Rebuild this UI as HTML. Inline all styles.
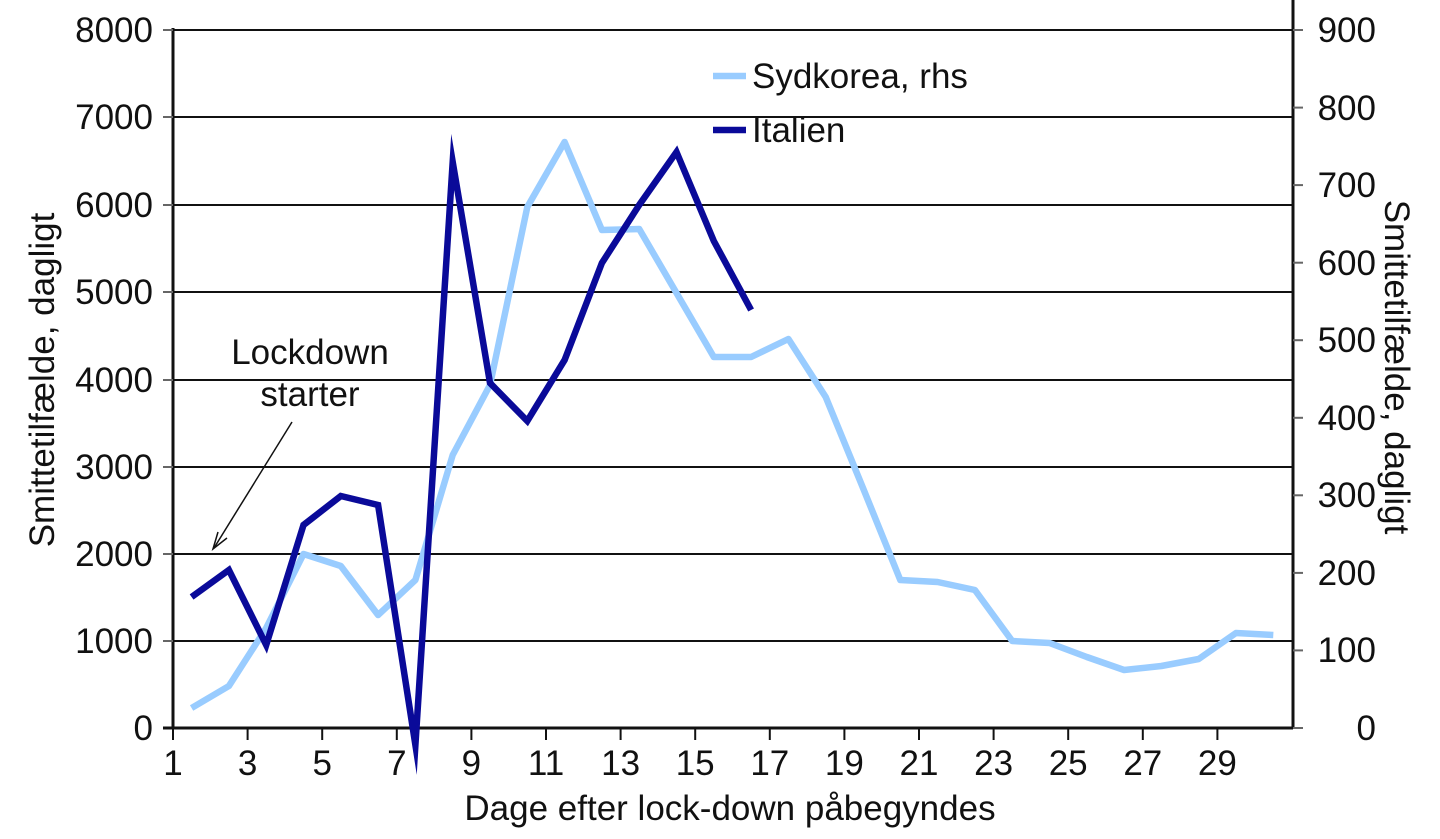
<!DOCTYPE html>
<html><head><meta charset="utf-8"><style>
html,body{margin:0;padding:0;background:#fff;}
svg text{font-family:"Liberation Sans",sans-serif;fill:#111;}
</style></head><body>
<svg width="1440" height="834" viewBox="0 0 1440 834" xmlns="http://www.w3.org/2000/svg">
<g stroke="#111" stroke-width="2">
<line x1="173" y1="30" x2="1293" y2="30"/>
<line x1="173" y1="117" x2="1293" y2="117"/>
<line x1="173" y1="205" x2="1293" y2="205"/>
<line x1="173" y1="292" x2="1293" y2="292"/>
<line x1="173" y1="380" x2="1293" y2="380"/>
<line x1="173" y1="467" x2="1293" y2="467"/>
<line x1="173" y1="554" x2="1293" y2="554"/>
<line x1="173" y1="641" x2="1293" y2="641"/>
</g>
<g stroke="#111" stroke-width="3">
<line x1="173" y1="28" x2="173" y2="729"/>
<line x1="1293" y1="0" x2="1293" y2="729"/>
<line x1="163" y1="728" x2="1293" y2="728"/>
</g>
<g stroke="#666" stroke-width="2">
<line x1="163" y1="30" x2="173" y2="30"/><line x1="163" y1="117" x2="173" y2="117"/><line x1="163" y1="205" x2="173" y2="205"/><line x1="163" y1="292" x2="173" y2="292"/><line x1="163" y1="380" x2="173" y2="380"/><line x1="163" y1="467" x2="173" y2="467"/><line x1="163" y1="554" x2="173" y2="554"/><line x1="163" y1="641" x2="173" y2="641"/>
<line x1="1293" y1="30" x2="1303" y2="30"/><line x1="1293" y1="107.6" x2="1303" y2="107.6"/><line x1="1293" y1="185.1" x2="1303" y2="185.1"/><line x1="1293" y1="262.7" x2="1303" y2="262.7"/><line x1="1293" y1="340.2" x2="1303" y2="340.2"/><line x1="1293" y1="417.8" x2="1303" y2="417.8"/><line x1="1293" y1="495.3" x2="1303" y2="495.3"/><line x1="1293" y1="572.9" x2="1303" y2="572.9"/><line x1="1293" y1="650.4" x2="1303" y2="650.4"/><line x1="1293" y1="728" x2="1303" y2="728"/>
</g>
<g stroke="#111" stroke-width="2">
<line x1="173" y1="728" x2="173" y2="740"/><line x1="247.6" y1="728" x2="247.6" y2="740"/><line x1="322.2" y1="728" x2="322.2" y2="740"/><line x1="396.8" y1="728" x2="396.8" y2="740"/><line x1="471.4" y1="728" x2="471.4" y2="740"/><line x1="546" y1="728" x2="546" y2="740"/><line x1="620.6" y1="728" x2="620.6" y2="740"/><line x1="695.2" y1="728" x2="695.2" y2="740"/><line x1="769.8" y1="728" x2="769.8" y2="740"/><line x1="844.4" y1="728" x2="844.4" y2="740"/><line x1="919" y1="728" x2="919" y2="740"/><line x1="993.6" y1="728" x2="993.6" y2="740"/><line x1="1068.2" y1="728" x2="1068.2" y2="740"/><line x1="1142.8" y1="728" x2="1142.8" y2="740"/><line x1="1217.4" y1="728" x2="1217.4" y2="740"/>
</g>
<g font-size="35" text-anchor="end">
<text x="153" y="42">8000</text><text x="153" y="129">7000</text><text x="153" y="217">6000</text><text x="153" y="304">5000</text><text x="153" y="392">4000</text><text x="153" y="479">3000</text><text x="153" y="566">2000</text><text x="153" y="653">1000</text><text x="153" y="740">0</text>
<text x="1376" y="42">900</text><text x="1376" y="120">800</text><text x="1376" y="197">700</text><text x="1376" y="275">600</text><text x="1376" y="352">500</text><text x="1376" y="430">400</text><text x="1376" y="507">300</text><text x="1376" y="585">200</text><text x="1376" y="662">100</text><text x="1376" y="740">0</text>
</g>
<g font-size="35" text-anchor="middle">
<text x="173" y="775">1</text><text x="247.6" y="775">3</text><text x="322.2" y="775">5</text><text x="396.8" y="775">7</text><text x="471.4" y="775">9</text><text x="546" y="775">11</text><text x="620.6" y="775">13</text><text x="695.2" y="775">15</text><text x="769.8" y="775">17</text><text x="844.4" y="775">19</text><text x="919" y="775">21</text><text x="993.6" y="775">23</text><text x="1068.2" y="775">25</text><text x="1142.8" y="775">27</text><text x="1217.4" y="775">29</text>
<text x="730" y="820">Dage efter lock-down påbegyndes</text>
<text transform="translate(54,380) rotate(-90)">Smittetilfælde, dagligt</text>
<text transform="translate(1385,367) rotate(90)">Smittetilfælde, dagligt</text>
<text x="310" y="364">Lockdown</text>
<text x="310" y="406">starter</text>
</g>
<line x1="292" y1="422" x2="214" y2="548" stroke="#111" stroke-width="1.5"/>
<polyline points="218,532 213,549 227,538" fill="none" stroke="#111" stroke-width="1.5"/>
<polyline fill="none" stroke="#99ccff" stroke-width="6.5" stroke-linejoin="round" points="191.6,708 228.9,686 266.2,628 303.5,554 340.8,566 378.1,615 415.4,580 452.7,455 490,385 527.3,207 564.6,142 601.9,230 639.2,229 676.5,293 713.8,357 751.1,357 788.4,339 825.7,397 863,488 900.3,580 937.6,582 974.9,590 1012.2,641 1049.5,643 1086.8,657 1124.1,670 1161.4,666 1198.7,659 1236,633 1273.3,635"/>
<polyline fill="none" stroke="#0a0a99" stroke-width="6.5" stroke-linejoin="miter" stroke-miterlimit="20" points="191.6,597 228.9,570 266.2,645 303.5,525 340.8,496 378.1,505 415.4,745 452.7,162 490,383 527.3,421 564.6,360 601.9,263 639.2,205 676.5,152 713.8,241 751.1,310"/>
<line x1="713" y1="76" x2="746" y2="76" stroke="#99ccff" stroke-width="6.5"/>
<line x1="713" y1="130" x2="746" y2="130" stroke="#0a0a99" stroke-width="6.5"/>
<text x="752" y="88" font-size="35">Sydkorea, rhs</text>
<text x="752" y="142" font-size="35">Italien</text>
</svg>
</body></html>
